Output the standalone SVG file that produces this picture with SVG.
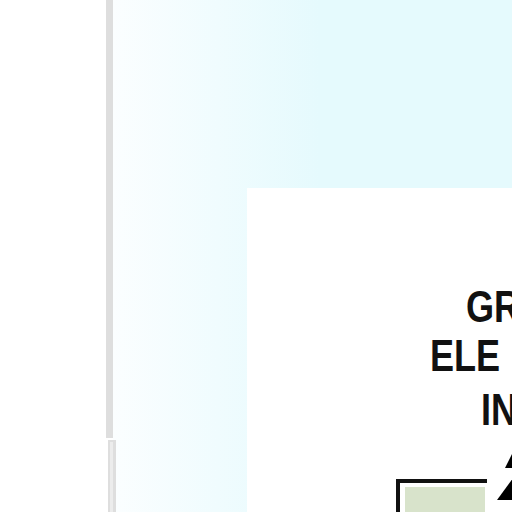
<svg xmlns="http://www.w3.org/2000/svg" width="512" height="512" viewBox="0 0 512 512">
<defs>
<linearGradient id="cy" x1="113" y1="0" x2="320" y2="0" gradientUnits="userSpaceOnUse">
<stop offset="0" stop-color="#fbfeff"/>
<stop offset="1" stop-color="#e5fafd"/>
</linearGradient>
<style>
.lbl{font-family:"Liberation Sans",Arial,sans-serif;font-size:44px;font-weight:bold;fill:#111}
</style>
</defs>
<rect width="512" height="512" fill="#ffffff"/>
<g id="panel">
<rect x="113" y="0" width="399" height="440" fill="url(#cy)"/>
<rect x="116" y="440" width="396" height="72" fill="url(#cy)"/>
<rect x="106" y="0" width="7" height="438" fill="#dedede"/>
<rect x="108" y="440" width="8" height="72" fill="#dedede"/>
<rect x="110" y="442" width="3" height="70" fill="#ececec"/>
</g>
<g id="inner">
<rect x="247" y="188" width="265" height="324" fill="#ffffff"/>
</g>
<g id="title">
<text class="lbl" transform="translate(466,322) scale(0.82,1)">GR</text>
<text class="lbl" transform="translate(430,371) scale(0.82,1)">ELE</text>
<text class="lbl" transform="translate(481,425) scale(0.82,1)">IN</text>
</g>
<g id="box">
<path d="M398 512 V481 H487" fill="none" stroke="#111" stroke-width="4"/>
<rect x="405" y="487" width="80" height="25" fill="#d8e3cb"/>
</g>
<g id="connectors">
<polygon points="513,452 505,468 513,468" fill="#000"/>
<polygon points="513,478 497,500 513,500" fill="#000"/>
</g>
</svg>
